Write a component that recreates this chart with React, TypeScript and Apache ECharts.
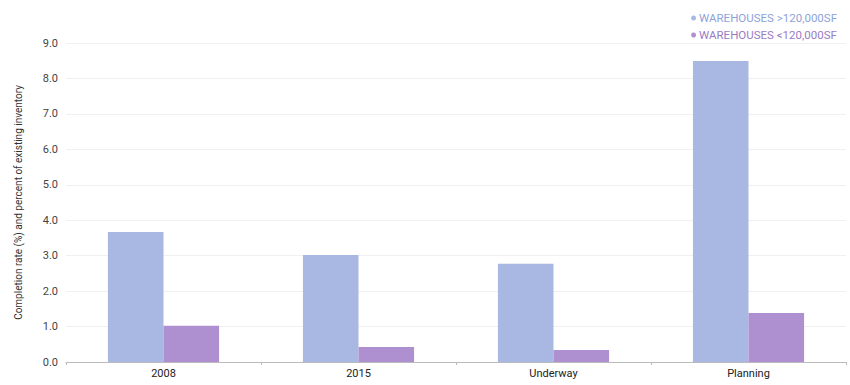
import React, { useEffect, useRef } from "react";
import * as echarts from "echarts";

const categories = ["2008", "2015", "Underway", "Planning"];
const largeWarehouses = [3.67, 3.02, 2.77, 8.49];
const smallWarehouses = [1.02, 0.42, 0.34, 1.38];
const seriesNames = ["WAREHOUSES >120,000SF", "WAREHOUSES <120,000SF"];
const colors = ["#a9b8e3", "#ae8fcf"];
const legendTextColors = ["#8ea3da", "#9a7cc6"];

export default function App() {
  const ref = useRef<HTMLDivElement>(null);
  useEffect(() => {
    document.body.style.margin = "0";
    if (!ref.current) return;
    const chart = echarts.init(ref.current, undefined, { renderer: "svg" });
    const font = "Roboto, 'Noto Sans', sans-serif";
    chart.setOption({
      animation: false,
      textStyle: { fontFamily: font },
      legend: {
        orient: "vertical",
        right: 8,
        top: 7,
        itemGap: 5,
        itemWidth: 5,
        itemHeight: 5,
        icon: "circle",
        textStyle: { fontSize: 11.5, fontFamily: font, padding: [0, 0, 0, -2] },
        data: seriesNames.map((n, i) => ({
          name: n,
          textStyle: { color: legendTextColors[i] },
        })),
      },
      grid: { left: 66, right: 4, top: 43, bottom: 23 },
      xAxis: {
        type: "category",
        data: categories,
        axisLine: { lineStyle: { color: "#bbbbbb" } },
        axisTick: { show: true, alignWithLabel: false, lineStyle: { color: "#bbbbbb" }, length: 3 },
        axisLabel: { color: "#222", fontSize: 11, fontFamily: font, margin: 6 },
      },
      yAxis: {
        type: "value",
        min: 0,
        max: 9,
        interval: 1,
        name: "Completion rate (%) and percent of existing inventory",
        nameLocation: "middle",
        nameGap: 43,
        nameRotate: 90,
        nameTextStyle: { color: "#333", fontSize: 10, fontFamily: font },
        axisLine: { show: false },
        axisTick: { show: false },
        axisLabel: {
          color: "#444",
          fontSize: 11,
          fontFamily: font,
          margin: 8,
          formatter: (v: number) => v.toFixed(1),
        },
        splitLine: { lineStyle: { color: "#f0f0f0" } },
      },
      series: [
        {
          name: seriesNames[0],
          type: "bar",
          data: largeWarehouses,
          itemStyle: { color: colors[0] },
          barGap: "0%",
          barCategoryGap: "43%",
        },
        {
          name: seriesNames[1],
          type: "bar",
          data: smallWarehouses,
          itemStyle: { color: colors[1] },
          barGap: "0%",
          barCategoryGap: "43%",
        },
      ],
    });
    return () => chart.dispose();
  }, []);
  return <div ref={ref} style={{ width: 850, height: 385 }} />;
}
